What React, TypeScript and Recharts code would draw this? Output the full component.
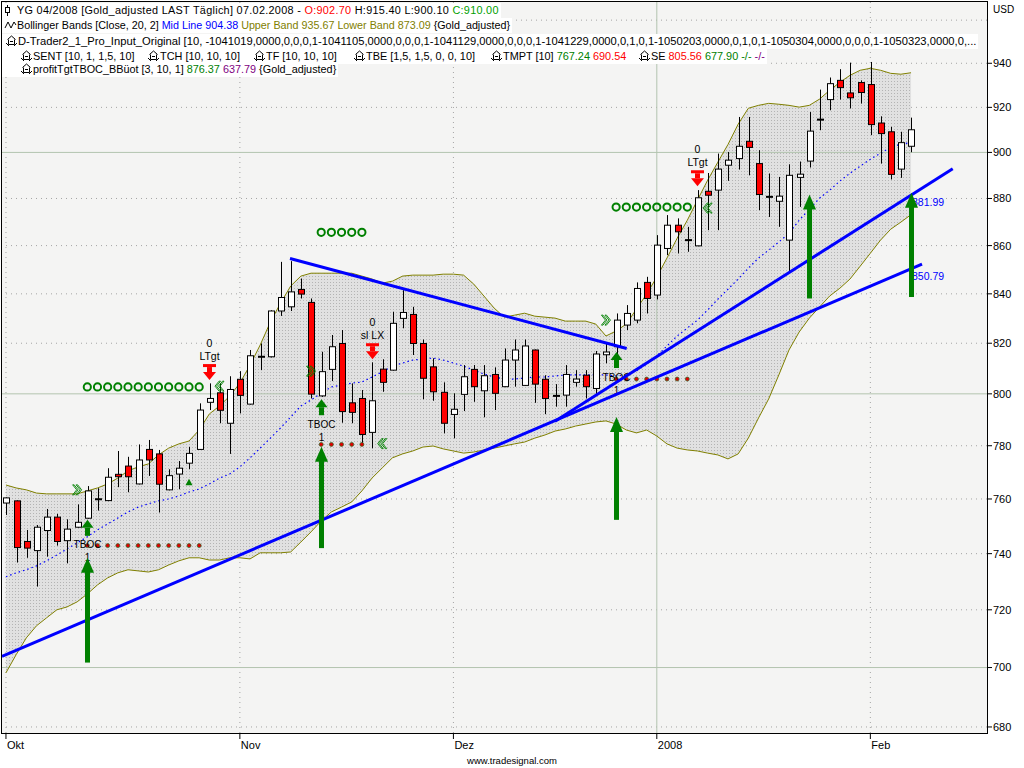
import React from "react";
import {
  ComposedChart,
  XAxis,
  YAxis,
  CartesianGrid,
  Area,
  Line,
  Bar,
  Scatter,
  ReferenceLine,
} from "recharts";

const FONT = "'Liberation Sans', Arial, sans-serif";

// daily bars, 1 Oct 2007 .. 7 Feb 2008
const opens = [
  758.5, 759.3, 744.4, 741.1, 748.4, 753.3, 744.7, 749.6, 752.9, 759.9,
  759.4, 769.2, 772.3, 765.6, 778.6, 776.9, 763.4, 769.3, 773.4, 778.6,
  796.7, 800.4, 788.6, 805.7, 796.0, 814.6, 814.6, 833.0, 834.7, 841.8,
  836.5, 799.2, 809.6, 819.9, 796.5, 798.2, 785.1, 809.7, 809.3, 830.0,
  831.6, 819.9, 810.6, 800.6, 792.0, 799.8, 809.6, 801.2, 807.6, 802.8,
  813.3, 803.3, 817.3, 805.7, 799.2, 799.5, 804.5, 807.3, 802.1, 815.4,
  818.6, 827.3, 829.3, 844.7, 839.5, 858.8, 868.6, 862.3, 859.9, 883.1,
  883.6, 894.4, 897.3, 904.9, 895.1, 880.7, 878.8, 862.3, 889.1, 896.2,
  914.5, 923.5, 932.2, 926.5, 931.2, 930.3, 913.0, 909.1, 892.7, 902.7,
];
const highs = [
  760.6, 759.5, 748.6, 750.4, 756.3, 754.5, 752.5, 758.0, 764.8, 764.0,
  771.5, 778.0, 775.8, 780.5, 782.2, 778.4, 771.1, 774.2, 779.6, 796.3,
  804.1, 804.1, 806.9, 808.9, 817.3, 819.9, 833.3, 853.2, 853.5, 846.3,
  838.1, 816.6, 823.3, 825.3, 804.1, 801.5, 812.4, 813.6, 832.7, 841.5,
  834.7, 821.5, 814.0, 804.5, 800.2, 811.3, 811.3, 811.3, 810.4, 817.9,
  821.5, 821.5, 817.5, 807.3, 803.8, 811.3, 809.3, 809.3, 816.9, 819.9,
  832.0, 835.4, 844.7, 847.0, 864.4, 872.9, 871.5, 867.9, 883.6, 891.0,
  899.5, 900.2, 915.7, 915.7, 901.0, 890.8, 889.3, 894.8, 896.0, 917.9,
  928.0, 933.5, 937.3, 940.3, 932.2, 940.6, 916.0, 911.3, 909.1, 915.4,
];
const lows = [
  754.1, 736.8, 738.5, 728.2, 738.9, 742.9, 736.5, 749.4, 752.7, 755.7,
  759.2, 764.4, 762.5, 765.4, 768.6, 755.0, 763.2, 763.6, 771.1, 778.5,
  793.7, 788.6, 776.9, 792.4, 795.8, 809.3, 814.3, 831.0, 833.0, 838.1,
  798.2, 798.8, 805.0, 788.8, 788.6, 780.3, 779.0, 800.8, 809.1, 826.0,
  815.3, 797.9, 797.3, 784.7, 782.8, 793.3, 796.9, 790.9, 793.7, 802.6,
  802.8, 803.1, 796.5, 792.1, 795.0, 795.0, 802.8, 798.2, 799.5, 812.0,
  815.3, 825.3, 828.0, 832.0, 837.7, 856.0, 856.7, 857.4, 859.7, 866.5,
  866.5, 887.6, 892.5, 890.0, 875.0, 872.1, 867.9, 849.1, 876.4, 893.4,
  909.8, 918.7, 923.5, 919.5, 921.7, 907.6, 895.1, 888.2, 888.9, 900.1,
];
const closes = [
  760.4, 742.2, 742.0, 749.6, 753.3, 744.4, 748.9, 751.4, 763.0, 759.9,
  768.1, 768.3, 768.3, 774.6, 774.6, 765.5, 768.7, 771.5, 777.1, 793.7,
  798.2, 793.6, 801.7, 799.4, 815.0, 814.6, 833.0, 838.5, 840.8, 839.9,
  799.9, 808.7, 818.6, 793.1, 792.8, 784.3, 797.3, 804.5, 828.0, 832.4,
  819.9, 806.1, 800.8, 788.6, 794.0, 806.7, 802.8, 807.1, 800.2, 813.3,
  817.3, 818.9, 803.8, 798.2, 799.2, 807.6, 805.8, 802.8, 815.7, 816.5,
  829.3, 832.0, 842.2, 838.1, 860.2, 868.6, 865.8, 862.3, 880.3, 881.4,
  892.7, 896.6, 902.7, 902.2, 881.7, 880.7, 881.0, 890.0, 890.5, 909.4,
  914.5, 930.7, 928.9, 924.3, 926.7, 912.3, 908.3, 890.4, 904.3, 910.0,
];

// Bollinger Bands [Close, 20, 2]
const upperBand = [
  765.2, 764.1, 763.4, 762.2, 761.9, 761.9, 761.9, 761.9, 763.0, 764.1,
  765.6, 767.8, 770.5, 772.0, 773.1, 776.5, 779.1, 780.7, 781.8, 786.0,
  792.2, 795.3, 799.1, 804.2, 811.3, 819.3, 828.5, 836.2, 843.2, 847.3,
  848.5, 848.5, 848.5, 848.5, 848.5, 847.3, 846.1, 844.4, 845.2, 847.3,
  847.7, 847.7, 847.7, 848.1, 848.1, 847.7, 844.0, 839.1, 834.2, 830.5,
  831.3, 832.1, 830.9, 830.5, 830.1, 828.9, 828.9, 828.9, 827.7, 822.9,
  824.9, 827.7, 833.8, 839.9, 846.9, 854.8, 863.1, 870.7, 879.3, 887.9,
  895.7, 903.5, 912.5, 919.6, 920.9, 921.8, 921.4, 920.9, 920.1, 920.9,
  923.7, 927.7, 931.3, 934.5, 936.8, 937.7, 936.8, 935.4, 935.0, 935.67,
];
const midBand = [
  731.7, 733.1, 734.2, 735.6, 737.4, 739.5, 741.7, 743.9, 746.1, 748.6,
  750.8, 753.0, 755.2, 757.0, 758.2, 759.3, 760.0, 761.1, 762.6, 763.7,
  765.6, 767.8, 769.3, 772.0, 775.4, 779.1, 782.9, 786.8, 791.0, 795.3,
  797.6, 800.3, 802.7, 803.4, 804.2, 804.6, 806.6, 808.6, 810.9, 812.1,
  813.3, 813.7, 814.1, 813.3, 812.1, 810.9, 809.3, 807.8, 806.6, 805.8,
  805.8, 806.2, 806.6, 806.6, 807.0, 807.4, 807.4, 807.4, 807.4, 807.4,
  807.0, 807.4, 809.0, 811.7, 814.9, 818.9, 822.9, 826.1, 829.3, 833.4,
  837.8, 841.9, 846.1, 850.6, 854.8, 858.1, 861.5, 865.2, 870.7, 875.4,
  880.1, 883.6, 887.5, 890.9, 894.0, 897.0, 899.6, 902.3, 903.6, 904.38,
];
const lowerBand = [
  698.2, 704.4, 710.2, 714.4, 717.2, 720.0, 721.0, 722.8, 725.6, 728.8,
  731.3, 733.1, 734.2, 733.8, 733.4, 734.2, 735.9, 737.4, 738.5, 738.5,
  737.7, 737.7, 738.5, 738.5, 738.1, 740.3, 740.3, 740.3, 740.6, 744.2,
  747.9, 751.9, 755.2, 757.0, 758.9, 763.0, 767.8, 771.6, 775.4, 776.9,
  778.0, 779.5, 779.9, 778.8, 778.0, 777.2, 777.6, 778.4, 779.1, 779.9,
  780.7, 781.4, 782.9, 784.1, 785.6, 786.4, 787.5, 788.3, 789.1, 789.5,
  788.3, 786.0, 784.9, 786.0, 783.7, 780.7, 779.1, 778.4, 778.0, 777.2,
  776.5, 775.0, 776.9, 782.9, 790.6, 798.0, 807.4, 817.3, 824.5, 830.1,
  834.6, 839.1, 842.3, 846.1, 851.4, 856.8, 862.3, 866.9, 869.9, 873.09,
];

// axes
const monthTicks = [0, 23, 44, 64, 85];
const monthLabels = ["Okt", "Nov", "Dez", "2008", "Feb"];
const solidMonths = [64];
const priceTicks = [680, 700, 720, 740, 760, 780, 800, 820, 840, 860, 880, 900, 920, 940];
const gridPrices = [680, 700, 720, 740, 760, 780, 800, 820, 840, 860, 880, 900, 920, 940, 960];
const solidPrices = [700, 800, 900];

// drawn trend lines
const trendFromIdx = [-0.39, 53.99, 27.93];
const trendFromPrice = [703.8, 789.4, 854.6];
const trendToIdx = [90.08, 93.1, 61.04];
const trendToPrice = [852.3, 892.9, 817.9];
const trendValueIdx = [89, 89];
const trendValues = [881.99, 850.79];

// signals
const bigArrowIdx = [8, 31, 60, 79, 89];
const bigArrowTop = [738.5, 779.6, 791.0, 881.7, 882.5];
const bigArrowBase = [701.7, 742.0, 752.3, 838.1, 838.7];

const entryIdx = [8, 31, 60];
const entryTop = [752.3, 797.9, 816.5];

const exitIdx = [20, 36, 68];
const exitTop = [811.7, 820.0, 892.2];
const exitLabels = ["LTgt", "sl LX", "LTgt"];

const levelFrom = [8, 31, 60];
const levelTo = [19, 35, 67];
const targetLevel = [802.7, 865.6, 876.3];
const stopLevel = [742.9, 780.5, 805.8];

const fwdIdx = [7, 30, 59];
const fwdPrice = [763.4, 808.9, 829.3];
const backIdx = [21, 37, 69];
const backPrice = [803.0, 780.8, 875.9];
const triIdx = [18];
const triPrice = [766.2];

const rows = opens.map((open, i) => ({
  i,
  open,
  high: highs[i],
  low: lows[i],
  close: closes[i],
  range: [lows[i], highs[i]],
  upper: upperBand[i],
  mid: midBand[i],
  lower: lowerBand[i],
  band: [lowerBand[i], upperBand[i]],
}));

const levelPoints = (levels: number[]) =>
  levels.flatMap((p, k) => {
    const out: { i: number; p: number }[] = [];
    for (let i = levelFrom[k]; i <= levelTo[k]; i++) out.push({ i, p });
    return out;
  });

const targetPts = levelPoints(targetLevel);
const stopPts = levelPoints(stopLevel);
const entryPts = entryIdx.map((i, k) => ({ i, p: entryTop[k] }));
const exitPts = exitIdx.map((i, k) => ({ i, p: exitTop[k], label: exitLabels[k] }));
const fwdPts = fwdIdx.map((i, k) => ({ i, p: fwdPrice[k] }));
const backPts = backIdx.map((i, k) => ({ i, p: backPrice[k] }));
const triPts = triIdx.map((i, k) => ({ i, p: triPrice[k] }));
const valuePts = trendValueIdx.map((i, k) => ({ i, p: trendValues[k] }));

const GREEN = "#008000";
const RED = "#ff0000";

function Candle(props: any) {
  const { x, y, width, height, payload } = props;
  if (x == null || y == null || !payload) return null;
  const c = Math.round(x + width / 2);
  const yTop = Math.min(y, y + height);
  const yBot = Math.max(y, y + height);
  const { open, close, high, low } = payload;
  const lh = Math.log(high);
  const span = lh - Math.log(low) || 1;
  const py = (v: number) => yTop + ((yBot - yTop) * (lh - Math.log(v))) / span;
  const bt = py(Math.max(open, close));
  const bb = py(Math.min(open, close));
  return (
    <g>
      <line x1={c + 0.5} x2={c + 0.5} y1={yTop} y2={yBot} stroke="#000" />
      {open === close ? (
        <rect x={c - 3} y={bt - 1} width={7} height={2} fill="#000" />
      ) : (
        <rect
          x={c - 2.5}
          y={bt}
          width={6}
          height={Math.max(bb - bt, 1)}
          fill={close > open ? "#fff" : RED}
          stroke="#000"
        />
      )}
    </g>
  );
}

function BigArrow(props: any) {
  const { x1, y1, y2 } = props;
  if (x1 == null) return null;
  const c = Math.round(x1) + 0.5;
  return (
    <g>
      <rect x={c - 2.5} y={y2 + 13} width={5} height={y1 - y2 - 13} fill={GREEN} />
      <polygon points={`${c - 6.5},${y2 + 15} ${c},${y2} ${c + 6.5},${y2 + 15}`} fill={GREEN} />
    </g>
  );
}

function TrendLine(props: any) {
  const { x1, y1, x2, y2 } = props;
  if (x1 == null) return null;
  return <line x1={x1} y1={y1} x2={x2} y2={y2} stroke="#0000ff" strokeWidth={3} />;
}

function EntryArrow(props: any) {
  const { cx, cy } = props;
  const c = Math.round(cx) + 0.5;
  return (
    <g>
      <polygon points={`${c - 6},${cy + 8} ${c},${cy} ${c + 6},${cy + 8}`} fill={GREEN} />
      <rect x={c - 2.5} y={cy + 8} width={5} height={8} fill={GREEN} />
      <text x={c} y={cy + 28.6} textAnchor="middle" fontSize={10} fill="#000" fontFamily={FONT}>
        TBOC
      </text>
      <text x={c} y={cy + 41.6} textAnchor="middle" fontSize={10} fill="#000" fontFamily={FONT}>
        1
      </text>
    </g>
  );
}

function ExitArrow(props: any) {
  const { cx, cy, payload } = props;
  const c = Math.round(cx) + 0.5;
  return (
    <g>
      <rect x={c - 6.5} y={cy} width={13} height={3} fill={RED} />
      <rect x={c - 2.5} y={cy + 3} width={5} height={5} fill={RED} />
      <polygon points={`${c - 6.5},${cy + 8} ${c + 6.5},${cy + 8} ${c},${cy + 16}`} fill={RED} />
      <text x={c} y={cy - 17.4} textAnchor="middle" fontSize={10.5} fill="#000" fontFamily={FONT}>
        0
      </text>
      <text x={c} y={cy - 4.4} textAnchor="middle" fontSize={10.5} fill="#000" fontFamily={FONT}>
        {payload.label}
      </text>
    </g>
  );
}

function TargetRing(props: any) {
  const { cx, cy } = props;
  return <circle cx={cx} cy={cy} r={3.6} fill="none" stroke={GREEN} strokeWidth={2} />;
}

function StopDot(props: any) {
  const { cx, cy } = props;
  return <circle cx={cx} cy={cy} r={2} fill="#e00000" stroke="#2a6a2a" strokeWidth={0.7} />;
}

function chevrons(cx: number, cy: number, dir: number) {
  const one = (ox: number) =>
    [
      [0, -5],
      [1.5, -5],
      [5.5, 0],
      [1.5, 5],
      [0, 5],
      [4, 0],
    ]
      .map(([a, b]) => `${cx + dir * (ox + a - 4.5)},${cy + b}`)
      .join(" ");
  return (
    <g>
      <polygon points={one(0)} fill="none" stroke={GREEN} strokeWidth={0.9} />
      <polygon points={one(3.5)} fill="none" stroke={GREEN} strokeWidth={0.9} />
    </g>
  );
}

const FwdMark = (props: any) => chevrons(props.cx, props.cy, 1);
const BackMark = (props: any) => chevrons(props.cx, props.cy, -1);

function TriMark(props: any) {
  const { cx, cy } = props;
  return <polygon points={`${cx - 3.5},${cy + 3} ${cx},${cy - 3.5} ${cx + 3.5},${cy + 3}`} fill={GREEN} />;
}

function ValueLabel(props: any) {
  const { cx, cy, payload } = props;
  return (
    <text x={cx + 1} y={cy + 12} fontSize={10.5} fill="#0000ff" fontFamily={FONT}>
      {payload.p.toFixed(2)}
    </text>
  );
}

function MonthTick(props: any) {
  const { x, y, payload } = props;
  const k = monthTicks.indexOf(payload.value);
  return (
    <text x={x + 1} y={y} dy="0.71em" fontSize={11} fill="#000" fontFamily={FONT}>
      {monthLabels[k]}
    </text>
  );
}

function CandleIcon() {
  return (
    <svg width={15} height={15} style={{ flex: "none" }}>
      <line x1={5.5} x2={5.5} y1={2} y2={13} stroke="#000" />
      <rect x={3.5} y={4.5} width={4} height={5} fill="#fff" stroke="#000" />
    </svg>
  );
}

function WaveIcon() {
  return (
    <svg width={15} height={15} style={{ flex: "none" }}>
      <polyline points="3,10 6,4 9,10 12,4 14,7" fill="none" stroke="#000" />
    </svg>
  );
}

function StudyIcon() {
  return (
    <svg width={13} height={15} style={{ flex: "none" }}>
      <path d="M2.5 5.5 L6.5 2 L10.5 5.5 M3.5 5.5 V10.5 H9.5 V5.5 M1 9 L4 12 M12 9 L9 12 M5 7.5 H8" fill="none" stroke="#000" />
    </svg>
  );
}

const studyItems: { x: number; body: React.ReactNode }[] = [
  { x: 20, body: "SENT [10, 1, 1,5, 10]" },
  { x: 147, body: "TCH [10, 10, 10]" },
  { x: 253, body: "TF [10, 10, 10]" },
  { x: 353, body: "TBE [1,5, 1,5, 0, 0, 10]" },
  {
    x: 490,
    body: (
      <>
        TMPT [10] <span style={{ color: GREEN }}>&nbsp;767.24</span>
        <span style={{ color: RED }}>&nbsp;690.54</span>
      </>
    ),
  },
  {
    x: 638,
    body: (
      <>
        SE <span style={{ color: RED }}>&nbsp;805.56</span>
        <span style={{ color: GREEN }}>&nbsp;677.90</span>
        <span style={{ color: GREEN }}>&nbsp;-/-</span>
        <span style={{ color: "#800080" }}>&nbsp;-/-</span>
      </>
    ),
  },
];

function HeaderLine({
  top,
  size,
  spacing = 0,
  children,
}: {
  top: number;
  size: number;
  spacing?: number;
  children: React.ReactNode;
}) {
  return (
    <div
      style={{
        position: "absolute",
        left: 2,
        top,
        height: 15,
        display: "flex",
        alignItems: "center",
        background: "#fff",
        whiteSpace: "nowrap",
        fontSize: size,
        letterSpacing: spacing,
        lineHeight: "15px",
        color: "#000",
        paddingRight: 2,
      }}
    >
      {children}
    </div>
  );
}

function Header() {
  return (
    <>
      <HeaderLine top={2.5} size={10.85} spacing={0.3}>
        <CandleIcon />
        YG 04/2008 [Gold_adjusted LAST Täglich] 07.02.2008 -&nbsp;
        <span style={{ color: RED }}>O:902.70</span>&nbsp;H:915.40 L:900.10&nbsp;
        <span style={{ color: "#00a000" }}>C:910.00</span>
      </HeaderLine>
      <HeaderLine top={18} size={10.75}>
        <WaveIcon />
        Bollinger Bands [Close, 20, 2]&nbsp;
        <span style={{ color: "#0000ff" }}>Mid Line 904.38</span>&nbsp;
        <span style={{ color: "#808000" }}>Upper Band 935.67</span>&nbsp;
        <span style={{ color: "#808000" }}>Lower Band 873.09</span>&nbsp;{"{Gold_adjusted}"}
      </HeaderLine>
      <HeaderLine top={34} size={11.2}>
        <span style={{ width: 3 }} />
        <StudyIcon />
        D-Trader2_1_Pro_Input_Original [10, -1041019,0000,0,0,0,1-1041105,0000,0,0,0,1-1041129,0000,0,0,0,1-1041229,0000,0,1,0,1-1050203,0000,0,1,0,1-1050304,0000,0,0,0,1-1050323,0000,0,...
      </HeaderLine>
      <HeaderLine top={49} size={10.9}>
        {studyItems.map((it, k) => (
          <span
            key={k}
            style={{
              display: "inline-flex",
              alignItems: "center",
              marginLeft: k === 0 ? it.x - 2 : 0,
              width: k < studyItems.length - 1 ? studyItems[k + 1].x - it.x : undefined,
            }}
          >
            <StudyIcon />
            {it.body}
          </span>
        ))}
      </HeaderLine>
      <HeaderLine top={62} size={10.85}>
        <span style={{ width: 18, flex: "none" }} />
        <StudyIcon />
        profitTgtTBOC_BBüot [3, 10, 1]&nbsp;
        <span style={{ color: GREEN }}>876.37</span>&nbsp;
        <span style={{ color: "#800080" }}>637.79</span>&nbsp;{"{Gold_adjusted}"}
      </HeaderLine>
    </>
  );
}

export default function App() {
  return (
    <div
      style={{
        position: "absolute",
        left: 0,
        top: 0,
        width: 1024,
        height: 768,
        background: "#fff",
        fontFamily: FONT,
        overflow: "hidden",
      }}
    >
      <ComposedChart width={1024} height={768} data={rows} margin={{ top: 1, right: 0, bottom: 0, left: 2 }}>
        <defs>
          <pattern id="bbDots" width={3} height={3} patternUnits="userSpaceOnUse">
            <rect width={3} height={3} fill="#e1e1e1" />
            <rect width={1} height={1} fill="#b4b4b4" />
          </pattern>
        </defs>
        <CartesianGrid horizontal={false} vertical={false} stroke="none" fill="#f4f4f3" />
        <XAxis
          type="number"
          dataKey="i"
          domain={[-0.39, 96.47]}
          allowDataOverflow
          ticks={monthTicks}
          interval={0}
          height={35}
          axisLine={false}
          tickLine={{ stroke: "#000" }}
          tickSize={6}
          tickMargin={2}
          tick={<MonthTick />}
        />
        <YAxis
          orientation="right"
          type="number"
          scale="log"
          domain={[678, 969]}
          allowDataOverflow
          ticks={priceTicks}
          interval={0}
          width={37}
          axisLine={false}
          tickLine={{ stroke: "#000" }}
          tickSize={5}
          tickMargin={1}
          tick={{ fill: "#000", fontSize: 11, fontFamily: FONT }}
        />

        {gridPrices
          .filter((p) => !solidPrices.includes(p))
          .map((p) => (
            <ReferenceLine key={"gd" + p} y={p} stroke="#a4a4a4" strokeDasharray="1 4" zIndex={-90} />
          ))}
        {monthTicks
          .filter((m) => !solidMonths.includes(m))
          .map((m) => (
            <ReferenceLine key={"vd" + m} x={m} stroke="#a4a4a4" strokeDasharray="1 4" zIndex={-90} />
          ))}

        <Area
          dataKey="band"
          type="linear"
          fill="url(#bbDots)"
          fillOpacity={1}
          stroke="none"
          isAnimationActive={false}
          activeDot={false}
          zIndex={-80}
        />

        {solidPrices.map((p) => (
          <ReferenceLine key={"gs" + p} y={p} stroke="#b3c4af" zIndex={-70} />
        ))}
        {solidMonths.map((m) => (
          <ReferenceLine key={"vs" + m} x={m} stroke="#b3c4af" zIndex={-70} />
        ))}

        <Line dataKey="upper" type="linear" stroke="#808000" strokeWidth={1} dot={false} activeDot={false} isAnimationActive={false} zIndex={-60} />
        <Line dataKey="lower" type="linear" stroke="#808000" strokeWidth={1} dot={false} activeDot={false} isAnimationActive={false} zIndex={-60} />
        <Line dataKey="mid" type="linear" stroke="#0000ff" strokeWidth={1.2} strokeDasharray="1.5 3" dot={false} activeDot={false} isAnimationActive={false} zIndex={-60} />

        <Bar dataKey="range" shape={Candle} barSize={7} isAnimationActive={false} zIndex={300} />

        <Scatter data={targetPts} dataKey="p" shape={TargetRing} isAnimationActive={false} zIndex={600} />
        <Scatter data={stopPts} dataKey="p" shape={StopDot} isAnimationActive={false} zIndex={600} />
        <Scatter data={entryPts} dataKey="p" shape={EntryArrow} isAnimationActive={false} zIndex={600} />
        <Scatter data={exitPts} dataKey="p" shape={ExitArrow} isAnimationActive={false} zIndex={600} />
        <Scatter data={fwdPts} dataKey="p" shape={FwdMark} isAnimationActive={false} zIndex={600} />
        <Scatter data={backPts} dataKey="p" shape={BackMark} isAnimationActive={false} zIndex={600} />
        <Scatter data={triPts} dataKey="p" shape={TriMark} isAnimationActive={false} zIndex={600} />

        {trendFromIdx.map((x0, k) => (
          <ReferenceLine
            key={"tl" + k}
            segment={[
              { x: x0, y: trendFromPrice[k] },
              { x: trendToIdx[k], y: trendToPrice[k] },
            ]}
            ifOverflow="visible"
            shape={TrendLine}
            zIndex={650}
          />
        ))}
        <Scatter data={valuePts} dataKey="p" shape={ValueLabel} isAnimationActive={false} zIndex={660} />

        {bigArrowIdx.map((i, k) => (
          <ReferenceLine
            key={"ba" + k}
            segment={[
              { x: i, y: bigArrowBase[k] },
              { x: i, y: bigArrowTop[k] },
            ]}
            ifOverflow="visible"
            shape={BigArrow}
            zIndex={700}
          />
        ))}
      </ComposedChart>

      <div
        style={{
          position: "absolute",
          left: 1,
          top: 1,
          width: 987,
          height: 733,
          border: "1px solid #000",
          boxSizing: "border-box",
          pointerEvents: "none",
        }}
      />
      <Header />
      <div style={{ position: "absolute", left: 993, top: 4, fontSize: 10, lineHeight: "12px", color: "#000" }}>USD</div>
      <div
        style={{
          position: "absolute",
          left: 0,
          top: 755,
          width: 1024,
          textAlign: "center",
          fontSize: 9.5,
          lineHeight: "12px",
          color: "#000",
        }}
      >
        www.tradesignal.com
      </div>
    </div>
  );
}
